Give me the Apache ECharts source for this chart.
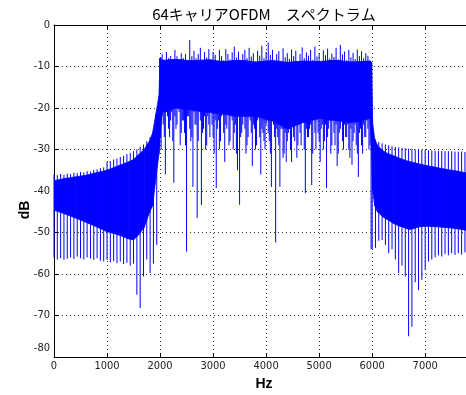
<!DOCTYPE html>
<html><head><meta charset="utf-8">
<script src="https://cdn.jsdelivr.net/npm/echarts@6/dist/echarts.min.js"></script>
<style>html,body{margin:0;padding:0;background:#fff}#c{width:466px;height:395px}</style>
</head><body><div id="c"></div>
<script>
const chartTitle = '64キャリアOFDM　スペクトラム';
const xName = 'Hz';
const yName = 'dB';
const xTickLabels = [0, 1000, 2000, 3000, 4000, 5000, 6000, 7000];
const yTickLabels = [0, -10, -20, -30, -40, -50, -60, -70, -80];
const xMaxHz = 7770; // right edge of the visible (cropped) plot

// dense (solid) part of the spectrum: top and bottom edges
const coreHz = [0, 200, 400, 600, 800, 1000, 1200, 1400, 1500, 1600, 1700, 1800, 1860, 1920, 1980,
  2000, 2040, 2300, 2600, 2900, 3200, 3500, 3800, 4100, 4400, 4700, 5000, 5300, 5600, 5960, 5990,
  6010, 6050, 6100, 6200, 6300, 6400, 6500, 6600, 6700, 6800, 6900, 7000, 7200, 7400, 7600, 7800];
const coreTopDb = [-37.5, -37.0, -36.6, -36.2, -35.6, -35.0, -34.0, -33.0, -32.4, -31.2, -30.0, -28.0, -26.0, -21.5, -17.0,
  -8.0, -8.5, -8.3, -8.6, -8.4, -8.8, -8.5, -8.9, -8.6, -9.0, -8.7, -8.8, -8.5, -8.9, -8.7, -9.0,
  -24.0, -27.5, -29.0, -30.3, -31.0, -31.5, -32.0, -32.5, -32.9, -33.2, -33.5, -33.8, -34.3, -34.8, -35.2, -35.7];
const coreBottomDb = [-44.6, -45.5, -46.5, -47.5, -48.6, -49.8, -50.5, -51.5, -51.8, -50.5, -48.8, -45.2, -43.5, -37.0, -31.0,
  -27.0, -21.0, -20.0, -20.5, -21.0, -21.5, -22.0, -22.0, -23.0, -25.0, -23.5, -22.5, -23.0, -23.5, -22.5, -30.0,
  -40.0, -43.5, -45.0, -46.2, -47.0, -47.8, -48.4, -48.8, -49.3, -49.0, -48.6, -48.5, -48.6, -48.8, -49.1, -49.5];

// passband spikes: peaks every 40 Hz from 2000 Hz, dips every 20 Hz from 2000 Hz
const passStartHz = 2000;
const passPeakStepHz = 40;
const passPeakDb = [
-8,-7,-9,-6.5,-8, -7.5,-8.5,-6,-7.5,-9,
-6.8,-8,-7,-8.8,-3.6, -7.5,-6.2,-8,-7,-5.5,
-8.5,-6.5,-7.8,-5.8,-8.2, -6.5,-7.2,-9,-6,-7.5,
-8.5,-5.8,-7,-8.3,-6.6, -5.2,-7.8,-6.4,-8.6,-7,
-6,-8,-5.5,-7.6,-6.8, -8.8,-6.2,-7.4,-5,-8,
-6.5,-4.2,-7.2,-6,-8.4, -7,-6.3,-8.6,-5.6,-7.8,
-6.8,-8.2,-5.9,-7.5,-6.2, -8.7,-7,-5.4,-8,-6.6,
-7.4,-6,-8.4,-5.2,-7.6, -6.8,-8.9,-6.1,-7.3,-5.7,
-8.1,-6.9,-7.7,-5.5,-8.3, -4.8,-7.1,-6.4,-8.5,-6,
-7.8,-6.7,-8.2,-5.9,-7.5, -6.3,-8,-6.8,-7.4,-8.5
];
const passDipStepHz = 20;
const passDipDb = [
-26,-30, -22,-24, -27,-36, -21,-22, -25,-27, -23,-21, -28,-38, -22,-25, -24,-20, -21,-29,
-26,-23, -23,-26, -29,-54.6, -22,-22, -25,-28, -27,-39, -21,-24, -24,-46.5, -28,-21, -23,-43.4,
-26,-25, -22,-30, -29,-22, -24,-27, -21,-24, -27,-31, -23,-39.3, -25,-23, -30,-28, -22,-21,
-26,-33, -24,-25, -21,-29, -28,-22, -23,-30, -26,-24, -31,-35, -22,-43.3, -27,-26, -24,-22,
-25,-31, -29,-27, -22,-23, -26,-34, -24,-25, -30,-29, -23,-22, -27,-36, -25,-26, -28,-30,
-24,-23, -26,-28, -31,-39, -23,-24, -27,-52.4, -25,-27, -29,-39, -24,-25, -32,-31, -26,-33,
-28,-26, -25,-30, -33,-23, -27,-28, -24,-32, -29,-24, -26,-29, -23,-22, -30,-40.5, -25,-27,
-27,-25, -24,-38.6, -31,-23, -26,-30, -23,-26, -28,-33, -25,-24, -30,-28, -24,-39.3, -27,-25,
-23,-31, -29,-22, -26,-29, -24,-34, -31,-26, -25,-23, -28,-30, -24,-27, -27,-24, -30,-32,
-25,-33.7, -28,-26, -24,-29, -31,-36.6, -26,-25, -29,-31, -24,-27, -27,-23, -25,-30, -29,-54
];

// sidelobe comb lines in the skirts, one every 62.5 Hz (carrier spacing)
const combStepHz = 62.5;
const lowCombStartHz = 0;
const lowCombTopDb = [
-36.0,-36.2,-35.9,-36.1,-35.8,-35.9,-35.6,-35.7,-35.4,-35.5,
-35.2,-35.3,-34.9,-34.8,-34.5,-34.3,-33.0,-32.8,-32.4,-32.2,
-31.8,-31.5,-31.1,-30.8,-30.4,-30.0,-29.4,-28.8,-28.0,-27.0,
-25.5,-22.0
];
const lowCombDeepDb = [
-56.0,-56.5,-56.2,-56.6,-56.3,-56.0,-56.4,-55.8,-56.2,-56.5,
-56.0,-56.3,-56.6,-56.2,-56.8,-57.0,-56.6,-57.2,-56.9,-57.4,
-57.0,-57.6,-57.3,-58.0,-57.5,-65.0,-68.2,-60.6,-56.5,-59.8,
-57.5,-53.0
];
const highCombStartHz = 6000;
const highCombTopDb = [
-22.0,-27.7,-28.2,-28.5,-28.8,-29.0,-29.2,-29.4,-29.5,-29.6,
-29.7,-29.8,-29.9,-30.0,-30.0,-30.1,-30.1,-30.2,-30.2,-30.3,
-30.3,-30.3,-30.4,-30.4,-30.4,-30.5,-30.5,-30.5,-30.6
];
const highCombDeepDb = [
-54.0,-53.7,-52.0,-51.8,-53.0,-55.0,-54.0,-56.5,-59.8,-58.0,
-60.6,-75.0,-72.7,-62.0,-63.9,-61.4,-59.0,-57.0,-56.5,-56.0,
-55.5,-55.8,-55.2,-55.5,-55.0,-55.4,-55.0,-55.3,-54.8
];

// ---- build series data ----
const coreData = coreHz.map((f, i) => [f, coreTopDb[i], coreBottomDb[i]]);
function nearestCore(f) {
  let best = 0;
  coreHz.forEach((h, i) => { if (Math.abs(h - f) < Math.abs(coreHz[best] - f)) best = i; });
  return best;
}
const spikes = [];
passPeakDb.forEach((v, j) => {
  const f = passStartHz + j * passPeakStepHz;
  spikes.push([f, coreBottomDb[nearestCore(f)]], [f, v], [f, '-']);
});
passDipDb.forEach((v, j) => {
  const f = passStartHz + j * passDipStepHz;
  spikes.push([f, coreTopDb[nearestCore(f)]], [f, v], [f, '-']);
});
function addComb(startHz, tops, deeps) {
  tops.forEach((t, k) => {
    const f = startHz + k * combStepHz;
    spikes.push([f, t], [f, deeps[k]], [f, '-']);
  });
}
addComb(lowCombStartHz, lowCombTopDb, lowCombDeepDb);
addComb(highCombStartHz, highCombTopDb, highCombDeepDb);

const blue = '#0000ff';
const tickFont = 'DejaVu Sans Condensed';
const chart = echarts.init(document.getElementById('c'), null, {renderer: 'canvas'});
chart.setOption({
  animation: false,
  backgroundColor: '#fff',
  grid: {left: 54, top: 25, right: 0, height: 332, containLabel: false},
  graphic: [
    {type: 'text', x: 264, y: 14, style: {text: chartTitle, fill: '#000', font: '15px "Noto Sans CJK JP"', align: 'center', verticalAlign: 'middle'}},
    {type: 'text', x: 25, y: 210, rotation: Math.PI / 2, style: {text: yName, fill: '#000', font: 'bold 14px "Liberation Sans"', align: 'center', verticalAlign: 'middle'}},
    {type: 'text', x: 264, y: 384, style: {text: xName, fill: '#000', font: 'bold 14px "Liberation Sans"', align: 'center', verticalAlign: 'middle'}}
  ],
  xAxis: [{
    type: 'value', min: 0, max: xMaxHz, interval: 1000, position: 'bottom',
    axisLine: {show: true, onZero: false, lineStyle: {color: '#000', width: 1}},
    axisTick: {show: true, inside: true, length: 4, lineStyle: {color: '#000'}},
    axisLabel: {color: '#222', fontFamily: tickFont, fontSize: 11, margin: 4, showMaxLabel: false,
      formatter: v => xTickLabels.includes(v) ? String(v) : ''},
    splitLine: {show: true, lineStyle: {type: [1, 3], color: '#333', width: 1}}
  }, {
    type: 'value', min: 0, max: xMaxHz, interval: 1000, position: 'top',
    axisLine: {show: true, onZero: false, lineStyle: {color: '#000', width: 1}},
    axisTick: {show: true, inside: true, length: 4, lineStyle: {color: '#000'}},
    axisLabel: {show: false}, splitLine: {show: false}
  }],
  yAxis: [{
    type: 'value', min: -80, max: 0, interval: 10,
    axisLine: {show: true, onZero: false, lineStyle: {color: '#000', width: 1}},
    axisTick: {show: true, inside: true, length: 4, lineStyle: {color: '#000'}},
    axisLabel: {color: '#222', fontFamily: tickFont, fontSize: 11, margin: 4,
      formatter: v => yTickLabels.includes(v) ? (v === -80 ? '{lo|-80}' : String(v)) : '',
      rich: {lo: {fontFamily: tickFont, fontSize: 11, color: '#222', padding: [0, 0, 18, 0]}}},
    splitLine: {show: true, lineStyle: {type: [1, 3], color: '#333', width: 1}}
  }],
  series: [{
    type: 'custom', data: coreData, encode: {x: 0, y: [1, 2]}, silent: true, clip: true,
    renderItem: function (params, api) {
      const i = params.dataIndex;
      if (i >= coreHz.length - 1) return null;
      const a = api.coord([coreHz[i], coreTopDb[i]]);
      const b = api.coord([coreHz[i + 1], coreTopDb[i + 1]]);
      const c = api.coord([coreHz[i + 1], coreBottomDb[i + 1]]);
      const d = api.coord([coreHz[i], coreBottomDb[i]]);
      return {type: 'polygon', shape: {points: [a, b, c, d]},
        style: {fill: blue, stroke: blue, lineWidth: 0.8}};
    }
  }, {
    type: 'line', data: spikes, symbol: 'none', showSymbol: false, connectNulls: false,
    lineStyle: {color: blue, width: 1}, itemStyle: {color: blue}, clip: true, silent: true
  }]
});
</script></body></html>
